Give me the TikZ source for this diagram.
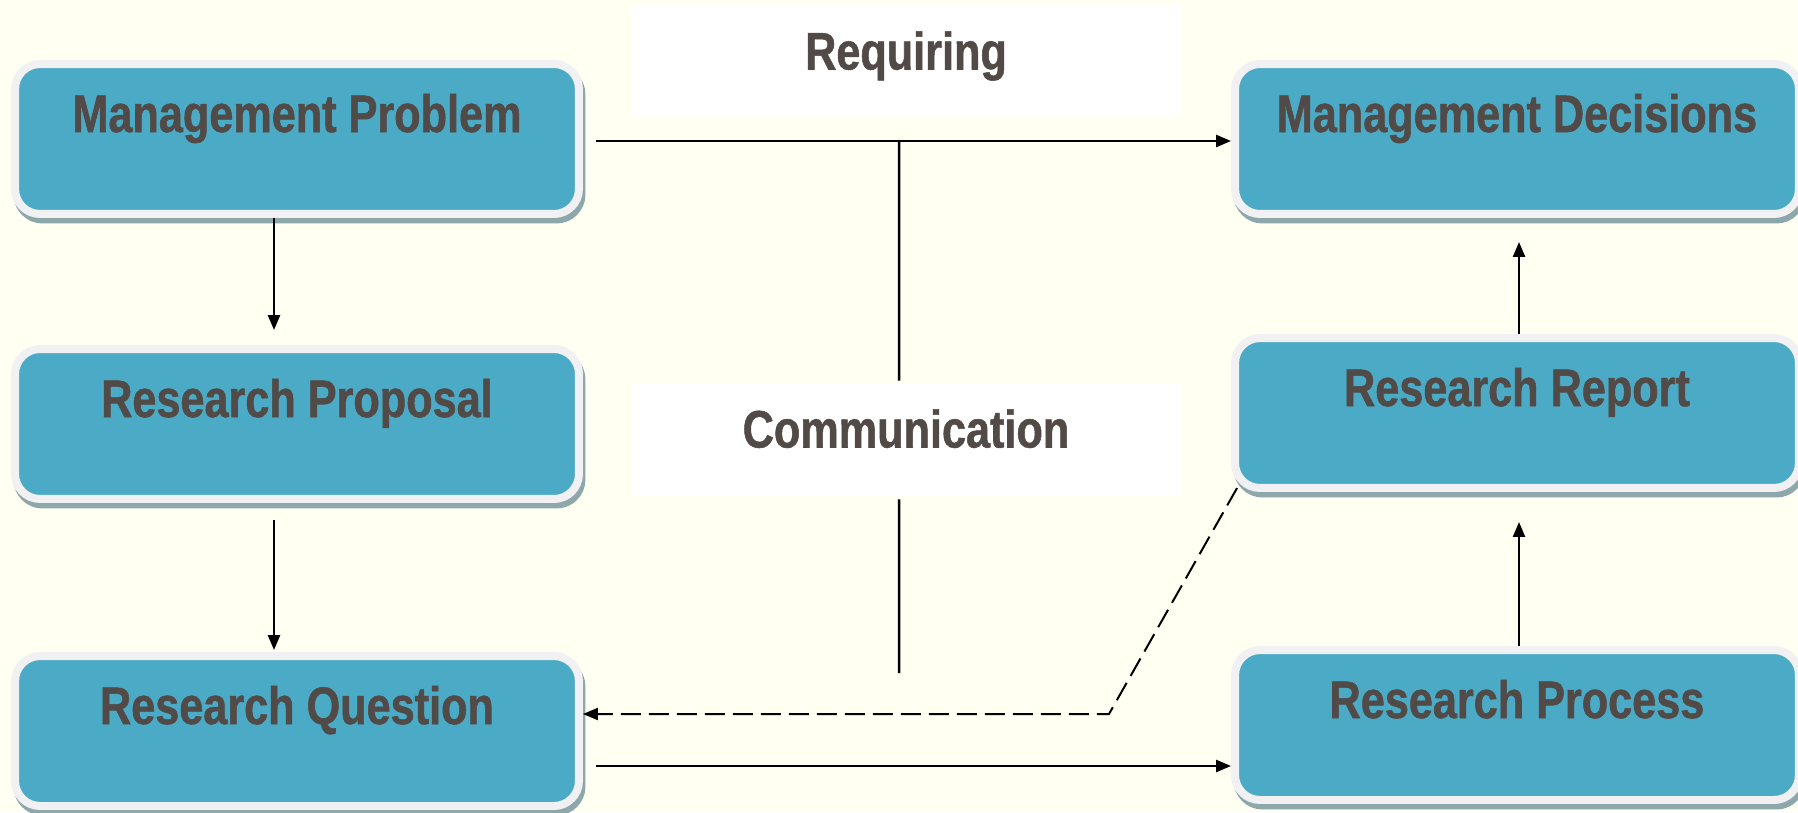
\documentclass[tikz,border=0pt]{standalone}
\usepackage{fontspec}
\setmainfont{Liberation Sans}[FakeStretch=0.82,BoldFeatures={FakeBold=1}]
\usetikzlibrary{arrows.meta,shadows}
\definecolor{paper}{HTML}{FFFFF2}
\definecolor{boxblue}{HTML}{4BAAC6}
\definecolor{boxrim}{HTML}{F1F1F3}
\definecolor{boxshade}{HTML}{8DA7AB}
\definecolor{inkbrown}{HTML}{524A46}

\begin{document}
\begin{tikzpicture}[x=0.02cm,y=-0.02cm,
		stage/.style={rectangle,rounded corners=0.5cm,fill=boxblue,draw=boxrim,line width=0.16cm,
			minimum width=11.28cm,minimum height=3cm,inner sep=0pt,
			text height=1.36cm,text depth=1.64cm,text=inkbrown,
			font=\bfseries\fontsize{30}{36}\selectfont,
			drop shadow={shadow xshift=0.05cm,shadow yshift=-0.11cm,fill=boxshade,draw=boxshade,line width=0.16cm,opacity=1}},
		tag/.style={rectangle,fill=white,minimum width=11cm,minimum height=2.24cm,inner sep=0pt,
			text height=1.27cm,text depth=0.97cm,text=inkbrown,
			font=\bfseries\fontsize{30}{36}\selectfont},
		link/.style={line width=0.05cm},
		flow/.style={link,-{Triangle[length=0.3cm,width=0.24cm]}}]
					\fill[paper] (0,0) rectangle (1798,812);
					\useasboundingbox (0,0) rectangle (1798,812);
					
					\node[tag] (requiring) at (906,62) {Requiring};
					\node[tag] (comm) at (906,440) {Communication};
					
					\node[stage] (mgmtprob) at (297,139) {Management Problem};
					\node[stage] (resprop) at (297,424) {Research Proposal};
					\node[stage] (resques) at (297,731) {Research Question};
					\node[stage] (mgmtdec) at (1517,139) {Management Decisions};
					\node[stage] (resrep) at (1517,413) {Research Report};
					\node[stage] (resproc) at (1517,725) {Research Process};
					
					\coordinate (split) at (899,141);
					\coordinate (commend) at (899,673);
					\coordinate (bend) at (1109,714);
					
					\draw[flow] ([xshift=0.26cm,yshift=-0.04cm]mgmtprob.east) -- ([yshift=-0.04cm]mgmtprob.east -| mgmtdec.west);
					\draw[link] (split) -- ([xshift=-0.14cm,yshift=0.06cm]comm.north);
					\draw[link] ([xshift=-0.14cm,yshift=-0.06cm]comm.south) -- (commend);
					\draw[flow] ([xshift=-0.46cm]mgmtprob.south) -- ([xshift=-0.46cm,yshift=0.3cm]resprop.north);
					\draw[flow] ([xshift=-0.46cm,yshift=-0.34cm]resprop.south) -- ([xshift=-0.46cm,yshift=0.04cm]resques.north);
					\draw[flow] ([xshift=0.26cm,yshift=-0.7cm]resques.east) -- ([yshift=-0.7cm]resques.east -| resproc.west);
					\draw[flow] ([xshift=0.04cm]resproc.north) -- ([xshift=0.04cm,yshift=-0.6cm]resrep.south);
					\draw[flow] ([xshift=0.04cm]resrep.north) -- ([xshift=0.04cm,yshift=-0.48cm]mgmtdec.south);
					\draw[flow,dash pattern=on 0.4cm off 0.16cm,line width=0.04cm] ([xshift=0.12cm,yshift=0.08cm]resrep.south west) -- (bend) -- ([yshift=0.34cm]resques.east);
					
				\end{tikzpicture}
\end{document}
